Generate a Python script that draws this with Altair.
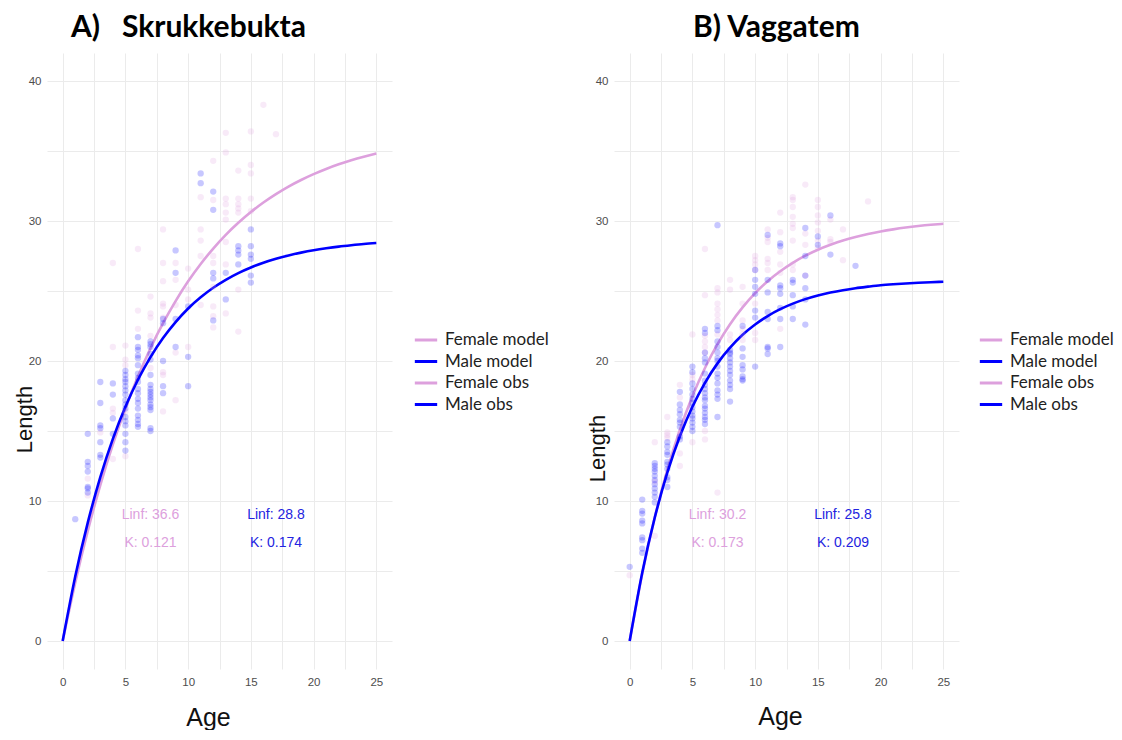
import altair as alt
import pandas as pd

SERIES = ["Female model", "Male model", "Female obs", "Male obs"]
FEMALE = "#DDA0DD"
MALE = "#0000FF"

MODEL_AGES = list(range(26))
X_GRID = [0, 2.5, 5, 7.5, 10, 12.5, 15, 17.5, 20, 22.5, 25]
Y_GRID = [0, 5, 10, 15, 20, 25, 30, 35, 40]

# ---------- A) Skrukkebukta ----------
A_FEMALE_MODEL = [0, 4.17, 7.87, 11.14, 14.04, 16.61, 18.89, 20.91, 22.70, 24.28, 25.69, 26.93,
                  28.03, 29.01, 29.87, 30.64, 31.32, 31.92, 32.46, 32.93, 33.35, 33.72, 34.05,
                  34.34, 34.59, 34.82]
A_MALE_MODEL = [0, 4.60, 8.46, 11.71, 14.44, 16.73, 18.66, 20.28, 21.64, 22.78, 23.75, 24.55,
                25.23, 25.80, 26.28, 26.68, 27.02, 27.30, 27.54, 27.74, 27.91, 28.05, 28.17,
                28.27, 28.36, 28.43]
A_FEMALE_OBS = {
    2: [11.6, 10.4], 3: [14.9], 4: [27.0, 21.0, 16.6, 16.3, 13.0],
    5: [21.1, 20.1, 19.7, 16.4, 13.2], 6: [28.0, 23.6, 22.3],
    7: [24.6, 23.4, 23.1, 21.8, 19.5],
    8: [29.4, 27.0, 25.7, 24.1, 23.9, 23.1, 19.2, 19.0, 16.4],
    9: [27.0, 25.8, 24.0, 20.6, 17.2], 10: [26.6, 25.1, 24.4, 21.0],
    11: [31.7, 29.4, 28.6, 27.5, 24.0],
    12: [34.3, 31.5, 27.5, 27.0, 25.3, 23.9, 23.2, 22.4],
    13: [36.3, 34.9, 31.6, 31.2, 30.6, 30.1, 28.5, 26.9, 23.4],
    14: [33.6, 31.6, 31.2, 30.9, 30.6, 25.1, 22.1],
    15: [36.4, 34.0, 33.4, 31.6, 30.7], 16: [38.3], 17: [36.2],
}
A_MALE_OBS = {
    1: [8.7], 2: [14.8, 12.8, 12.5, 12.1, 11.0, 10.9, 10.6],
    3: [18.5, 17.0, 15.4, 15.2, 14.2, 13.3, 13.1], 4: [18.4, 17.6, 15.9, 14.8],
    5: [19.3, 19.0, 18.7, 18.5, 18.2, 17.9, 17.6, 17.2, 16.9, 16.6, 16.0, 15.7, 15.4, 14.8, 14.2, 13.6],
    6: [21.7, 21.0, 20.8, 20.4, 20.2, 19.7, 19.1, 18.8, 18.5, 18.0, 17.7, 17.3, 17.0, 16.6, 16.1, 15.8, 15.5, 15.3],
    7: [21.4, 21.2, 21.0, 20.5, 20.1, 19.0, 18.3, 18.0, 17.8, 17.6, 17.4, 17.2, 16.9, 16.7, 16.5, 15.2, 15.0],
    8: [23.0, 22.7, 20.0, 18.2, 17.7], 9: [27.9, 26.3, 23.0, 21.0], 10: [23.9, 20.3, 18.2],
    11: [33.4, 32.7], 12: [32.1, 30.8, 26.3, 25.9, 22.9], 13: [26.3, 24.4],
    14: [28.2, 27.9, 27.6, 26.9], 15: [29.4, 28.2, 27.6, 27.3, 26.1, 25.6],
}
A_FEMALE_LABELS = ["Linf: 36.6", "K: 0.121"]
A_MALE_LABELS = ["Linf: 28.8", "K: 0.174"]

# ---------- B) Vaggatem ----------
B_FEMALE_MODEL = [0, 4.80, 8.83, 12.23, 15.08, 17.48, 19.50, 21.20, 22.63, 23.83, 24.85, 25.70,
                  26.41, 27.01, 27.52, 27.95, 28.30, 28.61, 28.86, 29.07, 29.25, 29.40, 29.53,
                  29.64, 29.73, 29.80]
B_MALE_MODEL = [0, 4.87, 8.82, 12.02, 14.62, 16.73, 18.44, 19.83, 20.95, 21.87, 22.61, 23.21,
                23.70, 24.10, 24.42, 24.68, 24.89, 25.06, 25.20, 25.31, 25.41, 25.48, 25.54,
                25.59, 25.63, 25.66]
B_FEMALE_OBS = {
    0: [4.7], 2: [14.2, 11.4, 7.5], 3: [16.0, 14.9, 14.7, 14.5],
    4: [18.3, 17.4, 14.8, 13.4, 12.5], 5: [21.9, 19.0, 18.7, 14.2],
    6: [28.0, 24.7, 21.8, 21.4, 21.0, 20.6, 15.0, 14.4],
    7: [25.2, 24.9, 24.1, 23.7, 23.3, 22.9, 21.9, 10.6],
    8: [25.8, 25.1, 21.9, 21.5], 9: [25.3, 24.1, 22.9, 22.3, 21.9, 21.5],
    10: [27.5, 27.2, 26.9, 26.5, 24.1, 22.0, 21.5],
    11: [29.4, 28.8, 28.5, 27.3, 27.0, 26.5],
    12: [30.6, 29.2, 27.8, 26.9, 26.3, 22.3],
    13: [31.7, 31.5, 31.0, 30.3, 29.8, 29.5, 28.6, 26.9, 26.5],
    14: [32.6, 29.1, 28.3, 26.1],
    15: [31.5, 31.0, 30.4, 29.9, 29.3, 28.6, 28.1],
    16: [30.1, 28.7, 28.5], 17: [29.4, 27.2], 19: [31.4],
}
B_MALE_OBS = {
    0: [5.3], 1: [10.1, 9.3, 9.1, 8.6, 8.4, 7.4, 7.2, 6.6, 6.3],
    2: [12.7, 12.5, 12.3, 12.1, 11.8, 11.5, 11.2, 10.9, 10.6, 10.3, 9.9],
    3: [14.2, 13.9, 13.5, 13.3, 12.8, 12.6, 12.3, 11.7, 11.5, 11.0],
    4: [17.8, 16.9, 16.5, 16.2, 15.8, 15.6, 15.3, 14.6, 14.4],
    5: [19.6, 19.2, 18.4, 18.0, 17.6, 17.3, 17.0, 16.7, 16.4, 16.1, 15.9, 15.6, 15.3, 15.0],
    6: [22.3, 22.0, 20.6, 20.2, 19.9, 19.1, 18.6, 18.3, 18.0, 17.7, 17.4, 17.2, 16.8, 16.6, 16.3, 16.0, 15.8, 15.5],
    7: [29.7, 22.5, 22.2, 21.4, 21.0, 20.6, 20.2, 20.0, 19.6, 19.1, 18.8, 18.4, 17.9, 17.6, 17.3, 16.0],
    8: [20.8, 20.6, 20.5, 20.2, 19.9, 19.6, 19.3, 19.0, 18.6, 18.3, 18.0, 17.1],
    9: [22.5, 20.9, 20.3, 19.7, 19.4, 18.9, 18.7, 18.6],
    10: [26.5, 25.8, 25.3, 24.8, 23.6, 23.1, 19.6],
    11: [29.0, 25.8, 24.9, 23.5, 23.0, 21.0, 20.9, 20.5],
    12: [28.4, 28.2, 25.4, 25.2, 24.8, 23.8, 23.0, 21.0],
    13: [25.8, 25.6, 24.7, 23.9, 23.0],
    14: [29.5, 27.5, 26.1, 25.2, 24.4, 22.6],
    15: [28.9, 28.3], 16: [30.4, 27.6], 18: [26.8],
}
B_FEMALE_LABELS = ["Linf: 30.2", "K: 0.173"]
B_MALE_LABELS = ["Linf: 25.8", "K: 0.209"]

# annotation anchor (data coordinates)
LABEL_AGE_FEMALE = 7
LABEL_AGE_MALE = 17
LABEL_LENGTHS = [9.0, 7.0]


def obs_frame(fem, mal):
    rows = []
    for age, vals in fem.items():
        rows += [{"age": age, "length": v, "series": "Female obs"} for v in vals]
    for age, vals in mal.items():
        rows += [{"age": age, "length": v, "series": "Male obs"} for v in vals]
    return pd.DataFrame(rows)


def model_frame(fem, mal):
    rows = [{"age": a, "length": v, "series": "Female model"} for a, v in zip(MODEL_AGES, fem)]
    rows += [{"age": a, "length": v, "series": "Male model"} for a, v in zip(MODEL_AGES, mal)]
    return pd.DataFrame(rows)


def ann_frame(labels, age):
    return pd.DataFrame({"age": [age] * len(labels), "length": LABEL_LENGTHS, "label": labels})


def panel(title, title_dx, obs, model, f_labels, m_labels, ytx, yty, xtx, xty, legx):
    x = alt.X("age:Q", scale=alt.Scale(domain=[-1.25, 26.25], nice=False, zero=False),
              axis=alt.Axis(values=X_GRID, labelExpr="datum.value % 5 == 0 ? datum.label : ''",
                            title="Age", titleFontSize=25, titleFont="Liberation Sans",
                            titleFontWeight="normal", titleColor="#111111",
                            titleX=xtx, titleY=xty, titleAlign="center", titleBaseline="middle",
                            labelFont="Liberation Sans", labelFontSize=11.5, labelColor="#4d4d4d",
                            labelPadding=7, domain=False, ticks=False,
                            gridColor="#ebebeb", gridWidth=1))
    y = alt.Y("length:Q", scale=alt.Scale(domain=[-2, 42], nice=False, zero=False),
              axis=alt.Axis(values=Y_GRID, labelExpr="datum.value % 10 == 0 ? datum.label : ''",
                            title="Length", titleFontSize=22, titleFont="Liberation Sans",
                            titleFontWeight="normal", titleColor="#111111",
                            titleX=ytx, titleY=yty, titleAlign="center", titleBaseline="middle",
                            titleAngle=270,
                            labelFont="Liberation Sans", labelFontSize=11.5, labelColor="#4d4d4d",
                            labelPadding=6, domain=False, ticks=False,
                            gridColor="#ebebeb", gridWidth=1))
    color = alt.Color("series:N",
                      scale=alt.Scale(domain=SERIES, range=[FEMALE, MALE, FEMALE, MALE]),
                      legend=alt.Legend(title=None, orient="none", legendX=legx, legendY=274,
                                        symbolType="stroke", symbolStrokeWidth=3, symbolSize=500,
                                        symbolOpacity=1, labelFont="Lato", labelFontSize=17,
                                        labelColor="#222222", rowPadding=0.5, labelOffset=6,
                                        padding=0))
    lines = alt.Chart(model).mark_line(interpolate="natural", strokeWidth=2.6).encode(
        x=x, y=y, color=color)
    pts = alt.Chart(obs).mark_circle(size=40, opacity=0.22).encode(x=x, y=y, color=color)
    ftext = alt.Chart(ann_frame(f_labels, LABEL_AGE_FEMALE)).mark_text(
        font="Liberation Sans", fontSize=14, color=FEMALE).encode(x=x, y=y, text="label:N")
    mtext = alt.Chart(ann_frame(m_labels, LABEL_AGE_MALE)).mark_text(
        font="Liberation Sans", fontSize=14, color="#2323e0").encode(x=x, y=y, text="label:N")
    return alt.layer(lines, pts, ftext, mtext).properties(
        width=345, height=616,
        title=alt.TitleParams(title, anchor="start", frame="group", dx=title_dx,
                              font="Lato", fontSize=30, fontWeight="bold", color="#000000",
                              offset=10))


NB = "\u00a0"
left = panel("A)" + NB * 3 + "Skrukkebukta", 24, obs_frame(A_FEMALE_OBS, A_MALE_OBS),
             model_frame(A_FEMALE_MODEL, A_MALE_MODEL), A_FEMALE_LABELS, A_MALE_LABELS,
             -23, 366, 161, 48, 366)
right = panel("B) Vaggatem", 79, obs_frame(B_FEMALE_OBS, B_MALE_OBS),
              model_frame(B_FEMALE_MODEL, B_MALE_MODEL), B_FEMALE_LABELS, B_MALE_LABELS,
              -17, 395, 166, 47, 364)

chart = alt.hconcat(left, right, spacing=37).resolve_scale(color="independent").resolve_legend(
    color="independent").configure_view(stroke=None).properties(
    padding={"left": 5, "top": 5, "right": 0, "bottom": 0})

chart.save("out.html", embed_options={"renderer": "svg", "actions": False})
